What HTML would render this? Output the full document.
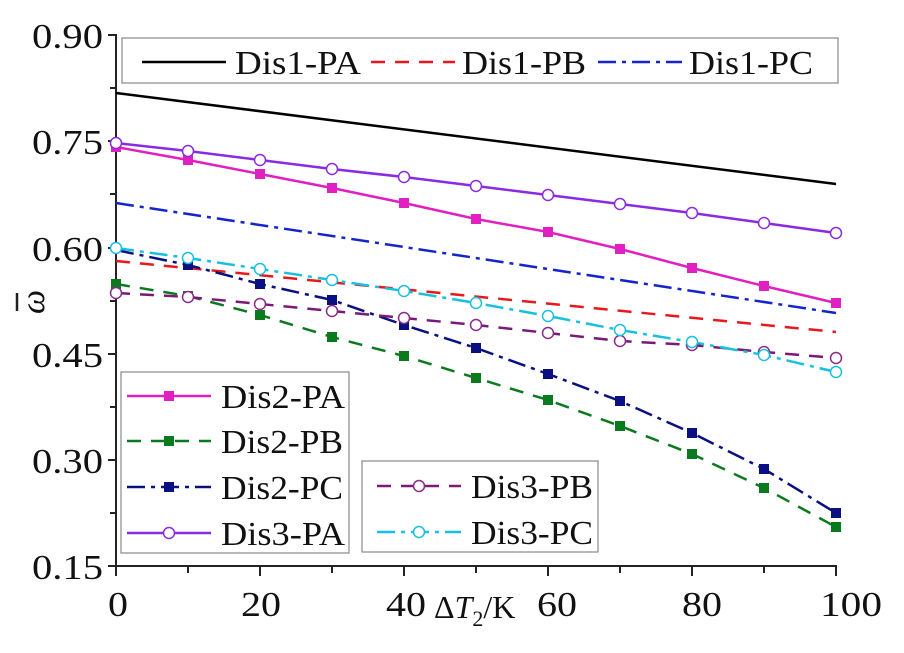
<!DOCTYPE html>
<html><head><style>body{margin:0;background:#fff}svg{display:block}text{font-family:"Liberation Serif",serif;fill:#111}</style></head><body>
<svg width="904" height="653" viewBox="0 0 904 653" xmlns="http://www.w3.org/2000/svg">
<defs>
<rect id="sq" x="-5" y="-5" width="10" height="10"/>
</defs>
<g stroke="#222" stroke-width="2" fill="none">
<line x1="116" y1="34" x2="116" y2="566"/>
<line x1="116" y1="566" x2="837" y2="566"/>
<path d="M108 35H116M108 141H116M108 248H116M108 354H116M108 460H116M108 566H116M110 88H116M110 194H116M110 301H116M110 407H116M110 513H116"/>
<path d="M116 566V576M188 566V573M260 566V576M332 566V573M404 566V576M476 566V573M548 566V576M620 566V573M692 566V576M764 566V573M836 566V576"/>
</g>
<g font-size="35">
<text x="32" y="48" textLength="71" lengthAdjust="spacingAndGlyphs">0.90</text>
<text x="32" y="154" textLength="71" lengthAdjust="spacingAndGlyphs">0.75</text>
<text x="32" y="261" textLength="71" lengthAdjust="spacingAndGlyphs">0.60</text>
<text x="32" y="367" textLength="71" lengthAdjust="spacingAndGlyphs">0.45</text>
<text x="32" y="473" textLength="71" lengthAdjust="spacingAndGlyphs">0.30</text>
<text x="32" y="579" textLength="71" lengthAdjust="spacingAndGlyphs">0.15</text>
</g>
<g font-size="35">
<text x="108" y="616" textLength="20" lengthAdjust="spacingAndGlyphs">0</text>
<text x="241" y="616" textLength="40" lengthAdjust="spacingAndGlyphs">20</text>
<text x="386" y="616" textLength="40" lengthAdjust="spacingAndGlyphs">40</text>
<text x="537" y="616" textLength="40" lengthAdjust="spacingAndGlyphs">60</text>
<text x="682" y="616" textLength="40" lengthAdjust="spacingAndGlyphs">80</text>
<text x="820" y="616" textLength="62" lengthAdjust="spacingAndGlyphs">100</text>
</g>
<text x="434" y="618" font-size="32">Δ<tspan font-style="italic">T</tspan><tspan font-size="22" dy="8">2</tspan><tspan dy="-8">/K</tspan></text>
<g transform="translate(44,302) rotate(-90)"><text font-size="34" font-style="italic" text-anchor="middle">ω</text></g>
<line x1="17" y1="293" x2="17" y2="311" stroke="#222" stroke-width="2.5"/>
<g fill="none" stroke-width="2.5">
<line x1="116" y1="93" x2="836" y2="184" stroke="#000"/>
<line x1="116" y1="261" x2="836" y2="332" stroke="#e8191c" stroke-dasharray="14,10"/>
<line x1="116" y1="203" x2="836" y2="313" stroke="#1525c8" stroke-dasharray="18,6,4,6"/>
<polyline stroke="#e020c0" points="116,147 188,160 260,174 332,188 404,203 476,219 548,232 620,249 692,268 764,286 836,303"/>
<polyline stroke="#8a2be2" points="116,143 188,151 260,160 332,169 404,177 476,186 548,195 620,204 692,213 764,223 836,233"/>
<polyline stroke="#0b7a1e" stroke-dasharray="14,10" points="116,284 188,296 260,315 332,337 404,356 476,378 548,400 620,426 692,454 764,488 836,527"/>
<polyline stroke="#0a1080" stroke-dasharray="18,6,4,6" points="116,250 188,265 260,284 332,300 404,325 476,348 548,374 620,401 692,433 764,469 836,513"/>
<polyline stroke="#7a1a78" stroke-dasharray="14,10" points="116,293 188,297 260,304 332,311 404,318 476,325 548,333 620,341 692,345 764,352 836,358"/>
<polyline stroke="#18c0e0" stroke-dasharray="18,6,4,6" points="116,248 188,258 260,269 332,280 404,291 476,303 548,316 620,330 692,342 764,355 836,372"/>
</g>
<g fill="#e020c0"><use href="#sq" x="116" y="147"/><use href="#sq" x="188" y="160"/><use href="#sq" x="260" y="174"/><use href="#sq" x="332" y="188"/><use href="#sq" x="404" y="203"/><use href="#sq" x="476" y="219"/><use href="#sq" x="548" y="232"/><use href="#sq" x="620" y="249"/><use href="#sq" x="692" y="268"/><use href="#sq" x="764" y="286"/><use href="#sq" x="836" y="303"/></g>
<g fill="#0b7a1e"><use href="#sq" x="116" y="284"/><use href="#sq" x="188" y="296"/><use href="#sq" x="260" y="315"/><use href="#sq" x="332" y="337"/><use href="#sq" x="404" y="356"/><use href="#sq" x="476" y="378"/><use href="#sq" x="548" y="400"/><use href="#sq" x="620" y="426"/><use href="#sq" x="692" y="454"/><use href="#sq" x="764" y="488"/><use href="#sq" x="836" y="527"/></g>
<g fill="#0a1080"><use href="#sq" x="188" y="265"/><use href="#sq" x="260" y="284"/><use href="#sq" x="332" y="300"/><use href="#sq" x="404" y="325"/><use href="#sq" x="476" y="348"/><use href="#sq" x="548" y="374"/><use href="#sq" x="620" y="401"/><use href="#sq" x="692" y="433"/><use href="#sq" x="764" y="469"/><use href="#sq" x="836" y="513"/></g>
<g fill="#fff" stroke="#8a2be2" stroke-width="1.5"><circle cx="116" cy="143" r="5.5"/><circle cx="188" cy="151" r="5.5"/><circle cx="260" cy="160" r="5.5"/><circle cx="332" cy="169" r="5.5"/><circle cx="404" cy="177" r="5.5"/><circle cx="476" cy="186" r="5.5"/><circle cx="548" cy="195" r="5.5"/><circle cx="620" cy="204" r="5.5"/><circle cx="692" cy="213" r="5.5"/><circle cx="764" cy="223" r="5.5"/><circle cx="836" cy="233" r="5.5"/></g>
<g fill="#fff" stroke="#8a2a88" stroke-width="1.5"><circle cx="116" cy="293" r="5.5"/><circle cx="188" cy="297" r="5.5"/><circle cx="260" cy="304" r="5.5"/><circle cx="332" cy="311" r="5.5"/><circle cx="404" cy="318" r="5.5"/><circle cx="476" cy="325" r="5.5"/><circle cx="548" cy="333" r="5.5"/><circle cx="620" cy="341" r="5.5"/><circle cx="692" cy="345" r="5.5"/><circle cx="764" cy="352" r="5.5"/><circle cx="836" cy="358" r="5.5"/></g>
<g fill="#fff" stroke="#18c0e0" stroke-width="1.5"><circle cx="116" cy="248" r="5.5"/><circle cx="188" cy="258" r="5.5"/><circle cx="260" cy="269" r="5.5"/><circle cx="332" cy="280" r="5.5"/><circle cx="404" cy="291" r="5.5"/><circle cx="476" cy="303" r="5.5"/><circle cx="548" cy="316" r="5.5"/><circle cx="620" cy="330" r="5.5"/><circle cx="692" cy="342" r="5.5"/><circle cx="764" cy="355" r="5.5"/><circle cx="836" cy="372" r="5.5"/></g>
<rect x="122" y="38" width="716" height="45" fill="#fff" stroke="#888" stroke-width="1.2"/>
<g stroke-width="2.5">
<line x1="142" y1="62" x2="226" y2="62" stroke="#000"/>
<line x1="371" y1="62" x2="455" y2="62" stroke="#e8191c" stroke-dasharray="14,10"/>
<line x1="598" y1="62" x2="682" y2="62" stroke="#1525c8" stroke-dasharray="18,6,4,6"/>
</g>
<g font-size="34"><text x="235" y="74" textLength="126" lengthAdjust="spacingAndGlyphs">Dis1-PA</text><text x="462" y="74" textLength="124" lengthAdjust="spacingAndGlyphs">Dis1-PB</text><text x="689" y="74" textLength="124" lengthAdjust="spacingAndGlyphs">Dis1-PC</text></g>
<rect x="121" y="372" width="228" height="181" fill="#fff" stroke="#888" stroke-width="1.2"/>
<g stroke-width="2.5">
<line x1="127" y1="396" x2="211" y2="396" stroke="#e020c0"/>
<line x1="127" y1="441" x2="211" y2="441" stroke="#0b7a1e" stroke-dasharray="14,10"/>
<line x1="127" y1="487" x2="211" y2="487" stroke="#0a1080" stroke-dasharray="18,6,4,6"/>
<line x1="127" y1="533" x2="211" y2="533" stroke="#8a2be2"/>
</g>
<use href="#sq" x="169" y="396" fill="#e020c0"/><use href="#sq" x="169" y="441" fill="#0b7a1e"/><use href="#sq" x="169" y="487" fill="#0a1080"/>
<circle cx="169" cy="533" r="5.5" fill="#fff" stroke="#8a2be2" stroke-width="1.5"/>
<g font-size="34"><text x="221" y="408" textLength="124" lengthAdjust="spacingAndGlyphs">Dis2-PA</text><text x="221" y="453" textLength="122" lengthAdjust="spacingAndGlyphs">Dis2-PB</text><text x="221" y="499" textLength="122" lengthAdjust="spacingAndGlyphs">Dis2-PC</text><text x="221" y="545" textLength="124" lengthAdjust="spacingAndGlyphs">Dis3-PA</text></g>
<rect x="362" y="461" width="236" height="91" fill="#fff" stroke="#888" stroke-width="1.2"/>
<g stroke-width="2.5">
<line x1="377" y1="486" x2="461" y2="486" stroke="#7a1a78" stroke-dasharray="14,10"/>
<line x1="377" y1="532" x2="461" y2="532" stroke="#18c0e0" stroke-dasharray="18,6,4,6"/>
</g>
<circle cx="419" cy="486" r="5.5" fill="#fff" stroke="#8a2a88" stroke-width="1.5"/>
<circle cx="419" cy="532" r="5.5" fill="#fff" stroke="#18c0e0" stroke-width="1.5"/>
<g font-size="34"><text x="471" y="498" textLength="122" lengthAdjust="spacingAndGlyphs">Dis3-PB</text><text x="471" y="544" textLength="122" lengthAdjust="spacingAndGlyphs">Dis3-PC</text></g>
</svg>
</body></html>
